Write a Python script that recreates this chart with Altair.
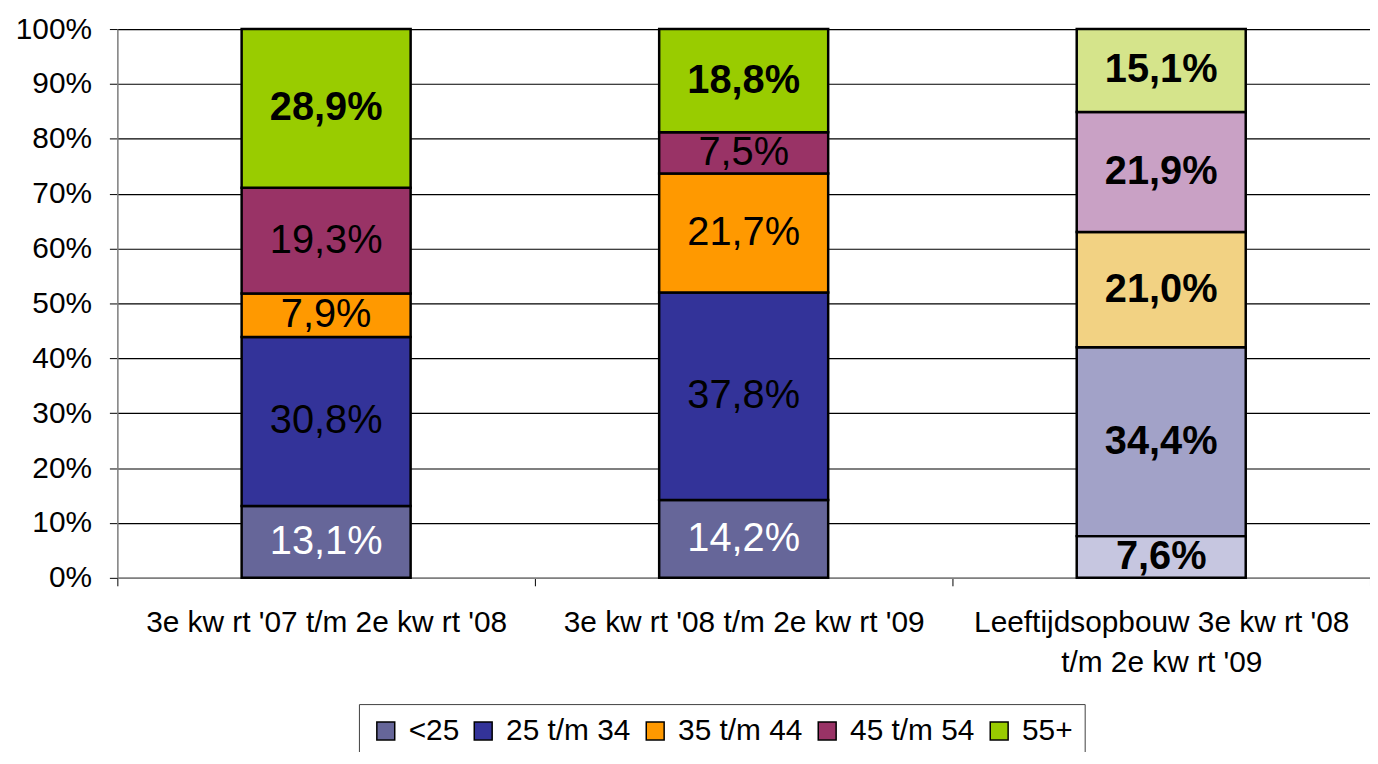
import altair as alt
import pandas as pd

categories = [
    "3e kw rt '07 t/m 2e kw rt '08",
    "3e kw rt '08 t/m 2e kw rt '09",
    "Leeftijdsopbouw  3e kw rt '08|t/m 2e kw rt '09",
]
groups = ["<25", "25 t/m 34", "35 t/m 44", "45 t/m 54", "55+"]
values_1 = [13.1, 30.8, 7.9, 19.3, 28.9]
values_2 = [14.2, 37.8, 21.7, 7.5, 18.8]
values_3 = [7.6, 34.4, 21.0, 21.9, 15.1]
y_ticks = [0, 0.1, 0.2, 0.3, 0.4, 0.5, 0.6, 0.7, 0.8, 0.9, 1.0]

base_colors = ["#666699", "#333399", "#FF9900", "#993366", "#99CC00"]
light_colors = ["#C6C6E0", "#A2A2C8", "#F2D283", "#C9A1C5", "#D5E48B"]

rows = []
for ci, (cat, vals) in enumerate(zip(categories, [values_1, values_2, values_3])):
    for gi, (g, v) in enumerate(zip(groups, vals)):
        rows.append({
            "cat": cat,
            "group": g,
            "idx": gi,
            "value": v / 100.0,
            "label": f"{v:.1f}".replace(".", ",") + "%",
            "key": g if ci < 2 else g + "*",
            "bold": (g == "55+") or ci == 2,
            "white": (g == "<25") and ci < 2,
        })
df = pd.DataFrame(rows)

FONT = "Liberation Sans"

x_enc = alt.X(
    "cat:N",
    sort=categories,
    scale=alt.Scale(paddingInner=0, paddingOuter=0),
    axis=alt.Axis(
        title=None,
        labelExpr="split(datum.label, '|')",
        labelAngle=0,
        labelFont=FONT,
        labelFontSize=30,
        labelColor="black",
        labelLineHeight=40,
        labelPadding=22,
        labelLimit=600,
        tickBand="extent",
        tickSize=8,
        tickColor="black",
        domainColor="#808080",
        domainWidth=1.5,
        grid=False,
    ),
)

bars = alt.Chart(df).mark_bar(size=170, stroke="black", strokeWidth=2.5).encode(
    x=x_enc,
    y=alt.Y(
        "value:Q",
        stack="zero",
        scale=alt.Scale(domain=[0, 1]),
        axis=alt.Axis(
            title=None,
            values=y_ticks,
            format=".0%",
            labelFont=FONT,
            labelFontSize=30,
            labelColor="black",
            labelPadding=18,
            tickSize=8,
            tickColor="black",
            domainColor="#808080",
            domainWidth=1.5,
            grid=True,
            gridColor="black",
            gridWidth=1.2,
        ),
    ),
    color=alt.Color(
        "key:N",
        scale=alt.Scale(
            domain=groups + [g + "*" for g in groups],
            range=base_colors + light_colors,
        ),
        legend=alt.Legend(
            values=groups,
            title=None,
            orient="none",
            direction="horizontal",
            columns=5,
            legendX=243,
            legendY=679,
            padding=12,
            strokeColor="#404040",
            fillColor="white",
            symbolType="square",
            symbolSize=324,
            symbolStrokeColor="black",
            symbolStrokeWidth=1.5,
            symbolOpacity=1,
            labelFont=FONT,
            labelFontSize=30,
            labelColor="black",
            labelOffset=8,
            columnPadding=9,
            labelLimit=300,
        ),
    ),
    order=alt.Order("idx:Q", sort="ascending"),
)

text_base = alt.Chart(df).transform_stack(
    stack="value",
    groupby=["cat"],
    sort=[alt.SortField("idx", order="ascending")],
    as_=["y0", "y1"],
).transform_calculate(mid="(datum.y0 + datum.y1) / 2")

text_enc = dict(
    x=alt.X("cat:N", sort=categories, title=None),
    y=alt.Y("mid:Q", title=None),
    text="label:N",
    color=alt.condition("datum.white", alt.value("white"), alt.value("black")),
)

labels_regular = text_base.transform_filter("!datum.bold").mark_text(
    font=FONT, fontSize=40, align="center", baseline="middle"
).encode(**text_enc)

labels_bold = text_base.transform_filter("datum.bold").mark_text(
    font=FONT, fontSize=40, fontWeight="bold", align="center", baseline="middle"
).encode(**text_enc)

chart = alt.layer(bars, labels_regular, labels_bold).properties(
    width=1260,
    height=552,
    autosize=alt.AutoSizeParams(type="none"),
    padding={"left": 110, "top": 19, "right": 0, "bottom": 173},
).configure_view(fill="#C0C0C0", strokeWidth=0).configure(background="white")

chart.save("out.html", embed_options={"renderer": "svg", "actions": False})
